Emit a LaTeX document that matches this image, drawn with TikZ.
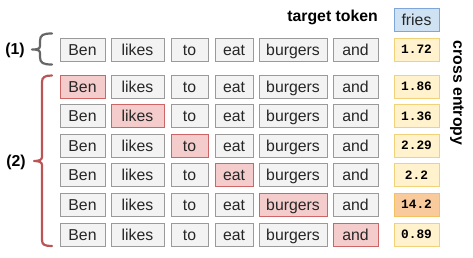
\documentclass[tikz,border=0pt]{standalone}
\usepackage{fontspec}
\setmainfont{Liberation Sans}
\newfontfamily\numfont{Liberation Mono}
\definecolor{gfill}{HTML}{F3F3F3}
\definecolor{gdraw}{HTML}{9A9A9A}
\definecolor{rfill}{HTML}{F4CCCC}
\definecolor{rdraw}{HTML}{CC6666}
\definecolor{yfill}{HTML}{FFF2CC}
\definecolor{ydraw}{HTML}{F1D27A}
\definecolor{ofill}{HTML}{F9CB9C}
\definecolor{bfill}{HTML}{CFE2F3}
\definecolor{bdraw}{HTML}{7EA6D8}
\definecolor{txt}{HTML}{262626}
\definecolor{bracered}{HTML}{BB5555}
\definecolor{bracegray}{HTML}{666666}
\tikzset{
  tok/.style={draw=gdraw, fill=gfill, line width=0.9pt, minimum height=23pt, inner sep=0pt, text height=11.5pt, text depth=0pt, text=txt, font=\fontsize{15.8}{18}\selectfont},
  hot/.style={draw=rdraw, fill=rfill},
  val/.style={draw=ydraw, fill=yfill, line width=0.9pt, minimum width=45pt, minimum height=23pt, inner sep=0pt, font=\numfont\bfseries\fontsize{12.8}{14}\selectfont},
  lbl/.style={font=\bfseries\fontsize{15.8}{18}\selectfont, text=black, inner sep=0pt},
  bracestyle/.style={line width=2.2pt, line cap=round, line join=round}
}
\begin{document}
\begin{tikzpicture}[x=1pt,y=-1pt]
\useasboundingbox (0,0) rectangle (473,257);
\foreach \r/\y in {0/49.5,1/86.5,2/116,3/145.5,4/175,5/204.5,6/234.5}{
  \foreach \c/\x/\w/\t in {1/82.5/45/Ben,2/137.5/53/likes,3/189.5/37/to,4/234/38/eat,5/293/68/burgers,6/355.5/45/and}{
    \ifnum\r=\c
      \node[tok,hot,minimum width=\w pt] (t\r-\c) at (\x,\y) {\t};
    \else
      \node[tok,minimum width=\w pt] (t\r-\c) at (\x,\y) {\t};
    \fi
  }
}
\node[val] (v0) at (416.5,49.5) {1.72};
\node[val] (v1) at (416.5,86.5) {1.86};
\node[val] (v2) at (416.5,116) {1.36};
\node[val] (v3) at (416.5,145.5) {2.29};
\node[val] (v4) at (416.5,175) {2.2};
\node[val,fill=ofill,draw=ydraw!80!orange] (v5) at (416.5,204.5) {14.2};
\node[val] (v6) at (416.5,234.5) {0.89};
\node[val,draw=bdraw,fill=bfill,font=\fontsize{15.8}{18}\selectfont,text=txt,text height=11.5pt,text depth=0pt] (fries) at (416.5,19.5) {fries};
\node[lbl,anchor=east] (tt) at (378,17) {target token};
\node[lbl,rotate=-90] (ce) at (457,93) {cross entropy};
% braces
\draw[bracestyle,bracegray] (52,33.5) .. controls (43,33.5) and (40,35) .. (40,41)
  -- (40,46) .. controls (40,49) and (37,49.5) .. (32,49.5)
  .. controls (37,49.5) and (40,50) .. (40,53)
  -- (40,57) .. controls (40,63) and (43,64.5) .. (52,64.5);
\node[lbl] (l1) at (15,50) {(1)};
\draw[bracestyle,bracered] (52,75.5) .. controls (45,75.5) and (42,77) .. (42,82)
  -- (42,157) .. controls (42,160) and (39,161) .. (34,161)
  .. controls (39,161) and (42,162) .. (42,165)
  -- (42,240) .. controls (42,245) and (45,246) .. (52,246);
\node[lbl] (l2) at (16,162) {(2)};
\end{tikzpicture}
\end{document}
